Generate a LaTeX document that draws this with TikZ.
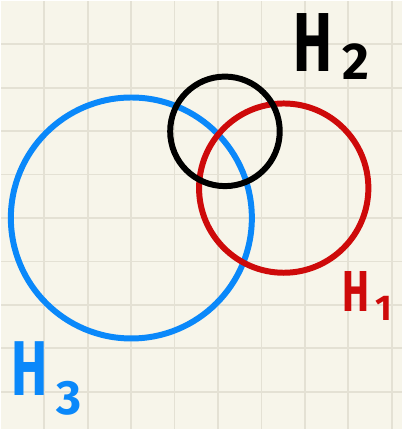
\documentclass[tikz,border=0pt]{standalone}
\usepackage{fontspec}
\setmainfont{Fira Sans}
\usepackage{tikz}
\usetikzlibrary{positioning}
\definecolor{paper}{HTML}{F7F5EA}
\definecolor{gridgray}{HTML}{E4E1D4}
\definecolor{setblue}{HTML}{0A88FA}
\definecolor{setred}{HTML}{CE0A0A}
\tikzset{
  ring/.style={draw=#1,circle,line width=6pt,inner sep=0pt},
  hlabel/.style={text=#1,inner sep=0pt,font=\bfseries},
  gridline/.style={gridgray,line width=1.8pt}
}
\newcommand{\hname}[3]{\fontsize{#1}{#1}\selectfont\scalebox{0.7}[1]{H}\hspace{0.12em}\raisebox{#3}{\fontsize{0.62\dimexpr#1\relax}{1}\selectfont #2}}

\begin{document}
\begin{tikzpicture}[x=1pt,y=-1pt]
        \fill[paper] (0,0) rectangle (403,430);
        \foreach \k in {1,...,9}{\draw[gridline] (43.6*\k,0) -- (43.6*\k,430);}
        \foreach \k in {1,...,9}{\draw[gridline] (0,43.6*\k) -- (403,43.6*\k);}
        \useasboundingbox (0,0) rectangle (403,430);
        \node[ring=setblue,minimum size=242] (h3) at (131,218) {};
        \node[ring=setred,minimum size=170] (h1) at (284,188) {};
        \node[ring=black,minimum size=110] (h2) at (225,131) {};
        \node[hlabel=black] (l2) at (332,46) {\hname{84pt}{2}{-0.1em}};
        \node[hlabel=setred] (l1) at (368,296) {\hname{58pt}{1}{-0.15em}};
        \node[hlabel=setblue] (l3) at (46,379) {\hname{78pt}{3}{-0.24em}};
      \end{tikzpicture}
\end{document}
